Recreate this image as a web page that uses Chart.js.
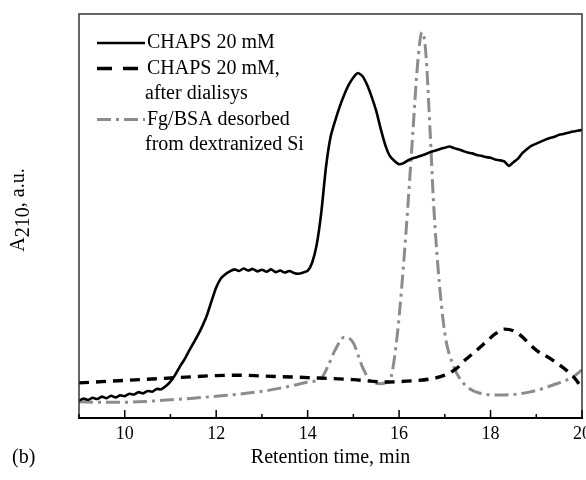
<!DOCTYPE html>
<html>
<head>
<meta charset="utf-8">
<script src="https://cdn.jsdelivr.net/npm/chart.js@4.4.0/dist/chart.umd.min.js"></script>
<style>
  html, body { margin: 0; background: #fff; }
</style>
</head>
<body>
<canvas id="chart" width="586" height="480"></canvas>
<script>
// CHAPS 20 mM (solid)
const chapsX = [9.0, 9.1, 9.2, 9.3, 9.4, 9.5, 9.6, 9.7, 9.8, 9.9, 10.0, 10.1, 10.2, 10.3, 10.4, 10.5, 10.6, 10.7, 10.8, 10.9, 11.0, 11.1, 11.2, 11.3, 11.4, 11.5, 11.6, 11.7, 11.8, 11.9, 12.0, 12.1, 12.2, 12.3, 12.4, 12.5, 12.6, 12.7, 12.8, 12.9, 13.0, 13.1, 13.2, 13.3, 13.4, 13.5, 13.6, 13.7, 13.8, 13.9, 14.0, 14.1, 14.2, 14.3, 14.4, 14.5, 14.6, 14.7, 14.8, 14.9, 15.0, 15.1, 15.2, 15.3, 15.4, 15.5, 15.6, 15.7, 15.8, 15.9, 16.0, 16.1, 16.2, 16.3, 16.4, 16.5, 16.6, 16.7, 16.8, 16.9, 17.0, 17.1, 17.2, 17.3, 17.4, 17.5, 17.6, 17.7, 17.8, 17.9, 18.0, 18.1, 18.2, 18.3, 18.4, 18.5, 18.6, 18.7, 18.8, 18.9, 19.0, 19.1, 19.2, 19.3, 19.4, 19.5, 19.6, 19.7, 19.8, 19.9, 20.0];
const chapsY = [4.3, 4.8, 4.5, 5.0, 4.7, 5.3, 4.9, 5.5, 5.1, 5.6, 5.4, 6.0, 5.8, 6.4, 6.1, 6.7, 6.5, 7.2, 7.1, 7.9, 9.0, 10.6, 12.6, 14.4, 16.5, 18.5, 20.5, 22.8, 25.5, 29, 32.3, 34.5, 35.6, 36.3, 36.8, 36.4, 37.0, 36.5, 36.9, 36.3, 36.7, 36.2, 36.8, 36.1, 36.5, 36.0, 36.4, 35.9, 35.7, 36.0, 36.4, 38.5, 43, 51, 62, 69.5, 73.5, 77, 80, 82.5, 84.3, 85.4, 84.6, 82.5, 79.5, 76, 71.5, 67.5, 64.8, 63.6, 62.8, 63.1, 63.8, 64.3, 64.6, 65.0, 65.4, 65.9, 66.2, 66.6, 66.9, 67.2, 66.8, 66.5, 66.1, 65.7, 65.5, 65.1, 64.9, 64.6, 64.4, 64.0, 63.8, 63.5, 62.4, 63.3, 64.2, 65.6, 66.6, 67.4, 67.9, 68.4, 68.9, 69.3, 69.6, 70.1, 70.3, 70.6, 70.9, 71.1, 71.3];

// CHAPS 20 mM after dialysis (dashed)
const dialX = [9.0, 10.0, 11.0, 12.0, 12.5, 13.0, 14.0, 15.0, 15.7, 16.3, 16.65, 17.0, 17.25, 17.45, 17.7, 17.9, 18.1, 18.3, 18.5, 18.65, 19.0, 19.35, 19.7, 19.9, 20.0];
const dialY = [8.7, 9.3, 9.9, 10.5, 10.6, 10.4, 10.0, 9.5, 8.9, 9.2, 9.6, 10.6, 12.2, 14.4, 16.8, 18.8, 20.8, 22.0, 21.6, 20.5, 16.8, 14.4, 11.4, 9.0, 6.9];

// Fg/BSA desorbed from dextranized Si (dash-dot)
const fgX = [9.0, 9.5, 10.0, 10.3, 11.0, 11.5, 12.0, 12.5, 13.0, 13.4, 13.7, 14.0, 14.3, 14.45, 14.6, 14.8, 14.9, 15.0, 15.2, 15.4, 15.6, 15.8, 15.9, 16.0, 16.15, 16.3, 16.4, 16.5, 16.58, 16.68, 16.75, 16.85, 17.0, 17.2, 17.4, 17.75, 18.2, 18.85, 19.5, 19.78, 20.0];
const fgY = [4.0, 3.9, 3.9, 4.0, 4.5, 4.9, 5.4, 5.9, 6.6, 7.4, 8.1, 8.9, 9.9, 13, 16.8, 20, 19.8, 18.6, 12.6, 8.9, 8.5, 9.4, 15, 25, 45.8, 70.5, 87, 95.5, 91, 70.5, 54, 37.4, 21, 12.6, 8.7, 6.2, 5.7, 6.4, 8.7, 10, 11.9];

const legendRows = [
  { text: 'CHAPS 20 mM', ds: 0 },
  { text: 'CHAPS 20 mM,', ds: 1 },
  { text: 'after dialisys', ds: -1 },
  { text: 'Fg/BSA desorbed', ds: 2 },
  { text: 'from dextranized Si', ds: -1 }
];

const serif = "'Liberation Serif', 'Times New Roman', serif";

function pts(xs, ys) {
  return xs.map((x, i) => ({ x: x, y: ys[i] }));
}

const extras = {
  id: 'extras',
  afterDraw(chart) {
    const ctx = chart.ctx;
    const a = chart.chartArea;
    const x = chart.scales.x;
    ctx.save();

    // frame (left, top, right)
    ctx.strokeStyle = '#333';
    ctx.lineWidth = 1.5;
    ctx.beginPath();
    ctx.moveTo(a.left, a.bottom);
    ctx.lineTo(a.left, a.top);
    ctx.lineTo(a.right, a.top);
    ctx.lineTo(a.right, a.bottom);
    ctx.stroke();

    // inward tick marks
    ctx.strokeStyle = '#000';
    ctx.lineWidth = 1.5;
    x.ticks.forEach(t => {
      const px = x.getPixelForValue(t.value);
      const len = t.value % 2 === 0 ? 8 : 4;
      ctx.beginPath();
      ctx.moveTo(px, a.bottom);
      ctx.lineTo(px, a.bottom - len);
      ctx.stroke();
    });

    // legend
    ctx.font = '20px ' + serif;
    ctx.fillStyle = '#000';
    ctx.textBaseline = 'middle';
    let y = 43;
    legendRows.forEach(r => {
      if (r.ds >= 0) {
        const d = chart.data.datasets[r.ds];
        ctx.strokeStyle = d.borderColor;
        ctx.lineWidth = d.borderWidth;
        ctx.setLineDash(d.legendDash || []);
        ctx.beginPath();
        ctx.moveTo(97, y);
        ctx.lineTo(145, y);
        ctx.stroke();
        ctx.setLineDash([]);
        ctx.fillText(r.text, 147, y);
      } else {
        ctx.fillText(r.text, 145, y);
      }
      y += 25.5;
    });

    // y axis title: A210, a.u.
    ctx.translate(24, 210);
    ctx.rotate(-Math.PI / 2);
    ctx.textBaseline = 'alphabetic';
    ctx.font = '20px ' + serif;
    const wA = ctx.measureText('A').width;
    const wSub = ctx.measureText('210').width;
    const wRest = ctx.measureText(', a.u.').width;
    let sx = -(wA + wSub + wRest) / 2;
    ctx.fillText('A', sx, 0);
    sx += wA;
    ctx.fillText('210', sx, 5);
    sx += wSub;
    ctx.fillText(', a.u.', sx, 0);
    ctx.restore();

    ctx.save();
    ctx.font = '20px ' + serif;
    ctx.fillStyle = '#000';
    ctx.textBaseline = 'middle';
    ctx.fillText('(b)', 12, 458);
    ctx.restore();
  }
};

new Chart(document.getElementById('chart').getContext('2d'), {
  type: 'line',
  data: {
    datasets: [
      {
        label: 'CHAPS 20 mM',
        data: pts(chapsX, chapsY),
        borderColor: '#000',
        borderWidth: 2.6,
        tension: 0.2
      },
      {
        label: 'CHAPS 20 mM, after dialisys',
        data: pts(dialX, dialY),
        borderColor: '#000',
        borderWidth: 3.4,
        borderDash: [10, 7],
        legendDash: [15, 11],
        cubicInterpolationMode: 'monotone'
      },
      {
        label: 'Fg/BSA desorbed from dextranized Si',
        data: pts(fgX, fgY),
        borderColor: '#8c8c8c',
        borderWidth: 3,
        borderDash: [14, 5, 3, 5],
        legendDash: [14, 5, 3, 5],
        cubicInterpolationMode: 'monotone'
      }
    ]
  },
  options: {
    responsive: false,
    animation: false,
    layout: { padding: { left: 79, top: 14, right: 4, bottom: 0 } },
    elements: { point: { radius: 0 } },
    plugins: { legend: { display: false }, tooltip: { enabled: false } },
    scales: {
      x: {
        type: 'linear',
        min: 9,
        max: 20,
        afterFit(s) {
          s.height = 62;
          s.paddingLeft = 0;
          s.paddingRight = 0;
        },
        grid: { display: false, drawTicks: false },
        border: { display: true, color: '#000', width: 2 },
        ticks: {
          stepSize: 1,
          autoSkip: false,
          maxRotation: 0,
          padding: 5,
          color: '#000',
          font: { family: serif, size: 18 },
          callback: v => (v % 2 === 0 ? String(v) : '')
        },
        title: {
          display: true,
          text: 'Retention time, min',
          color: '#000',
          font: { family: serif, size: 20 },
          padding: { top: 0, bottom: 10 }
        }
      },
      y: {
        display: false,
        min: 0,
        max: 100
      }
    }
  },
  plugins: [extras]
});
</script>
</body>
</html>
